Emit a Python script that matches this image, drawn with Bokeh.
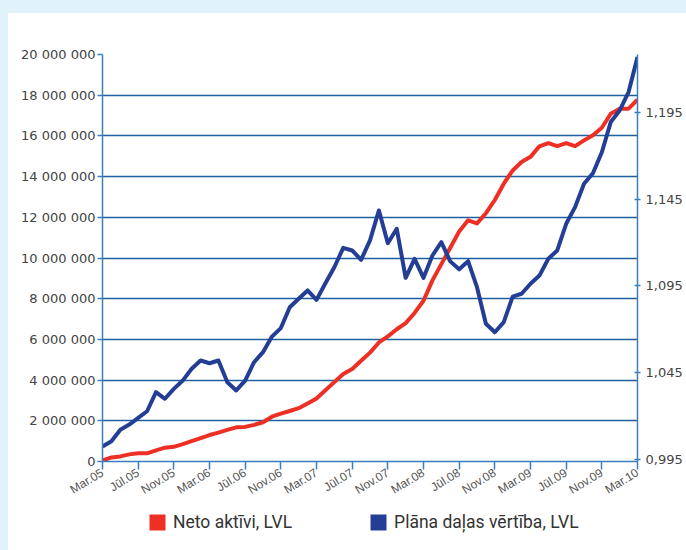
from bokeh.plotting import figure
from bokeh.models import (Range1d, LinearAxis, FixedTicker, CustomJSTickFormatter,
                          Legend, LegendItem, Spacer)
from bokeh.layouts import column, row
from bokeh.embed import file_html
from bokeh.resources import INLINE

# ---------------- data ----------------
months = list(range(61))  # Mar.05 .. Mar.10, monthly
tick_months = list(range(0, 61, 4))
tick_labels = ["Mar.05", "Jūl.05", "Nov.05", "Mar.06", "Jūl.06", "Nov.06",
               "Mar.07", "Jūl.07", "Nov.07", "Mar.08", "Jūl.08", "Nov.08",
               "Mar.09", "Jūl.09", "Nov.09", "Mar.10"]

# Neto aktīvi, LVL (millions)
neto_aktivi_mln = [
    0.05, 0.2, 0.25, 0.35, 0.4, 0.4, 0.55, 0.68, 0.72, 0.85,
    1.0, 1.15, 1.3, 1.42, 1.55, 1.68, 1.7, 1.8, 1.93, 2.2,
    2.35, 2.48, 2.62, 2.85, 3.1, 3.5, 3.9, 4.3, 4.55, 4.95,
    5.35, 5.85, 6.15, 6.5, 6.8, 7.3, 7.9, 8.9, 9.7, 10.5,
    11.3, 11.85, 11.7, 12.2, 12.85, 13.65, 14.3, 14.72, 14.97, 15.49,
    15.65, 15.5, 15.65, 15.5, 15.78, 16.03, 16.4, 17.09, 17.34, 17.34,
    17.78]
neto_aktivi = [v * 1e6 for v in neto_aktivi_mln]

# Plāna daļas vērtība, LVL
plana_dalas_vertiba = [
    1.0022, 1.0053, 1.0119, 1.0149, 1.0188, 1.0226, 1.0336, 1.0298, 1.0355, 1.0403,
    1.0471, 1.0519, 1.0503, 1.0519, 1.0393, 1.0346, 1.0403, 1.0509, 1.0567, 1.0657,
    1.0706, 1.0826, 1.0875, 1.0923, 1.0869, 1.0965, 1.1057, 1.1169, 1.1154, 1.1100,
    1.1212, 1.1385, 1.1196, 1.1279, 1.0996, 1.1106, 1.0996, 1.1125, 1.1202, 1.1091,
    1.1045, 1.1092, 1.0942, 1.0731, 1.0682, 1.0740, 1.0888, 1.0904, 1.0962, 1.1009,
    1.1106, 1.1154, 1.1308, 1.1404, 1.1539, 1.1600, 1.1721, 1.1895, 1.1962, 1.2068,
    1.2270]

left_ticks = list(range(0, 20_000_001, 2_000_000))
right_ticks = [0.995, 1.045, 1.095, 1.145, 1.195]

series_names = ["Neto aktīvi, LVL", "Plāna daļas vērtība, LVL"]

# ---------------- styles ----------------
RED = "#ee2f24"
BLUE = "#243e96"
GRID = "#1f5f9f"
AXIS = "#3b7fbf"
LABEL = "#444444"
BG = "#e1f3fa"

p = figure(width=678, height=497, output_backend="svg", toolbar_location=None,
           x_range=Range1d(0, 60), y_range=Range1d(0, 20_000_000),
           min_border_left=94, min_border_right=49, min_border_top=41,
           min_border_bottom=49)
p.extra_y_ranges = {"right": Range1d(0.9936, 1.2285)}
p.outline_line_color = None
p.background_fill_color = "white"
p.border_fill_color = "white"

# grid
p.xgrid.visible = False
p.ygrid.ticker = FixedTicker(ticks=left_ticks)
p.ygrid.grid_line_color = GRID
p.ygrid.grid_line_width = 1.3

# x axis
xa = p.xaxis[0]
xa.ticker = FixedTicker(ticks=tick_months)
xa.major_label_overrides = {m: lab for m, lab in zip(tick_months, tick_labels)}
xa.major_label_orientation = 0.55
xa.major_label_text_font = "Liberation Sans"
xa.major_label_text_font_size = "12px"
xa.major_label_text_color = "#555555"
xa.axis_line_color = AXIS
xa.axis_line_width = 1.5
xa.major_tick_line_color = AXIS
xa.major_tick_line_width = 1.5
xa.major_tick_out = 8
xa.major_tick_in = 0
xa.minor_tick_line_color = None
xa.major_label_standoff = 2

# left axis
ya = p.yaxis[0]
ya.ticker = FixedTicker(ticks=left_ticks)
ya.formatter = CustomJSTickFormatter(code="""
    return Math.round(tick).toString().replace(/\\B(?=(\\d{3})+(?!\\d))/g, ' ');
""")
ya.major_label_text_font = "DejaVu Sans"
ya.major_label_text_font_size = "13px"
ya.major_label_text_color = LABEL
ya.axis_line_color = AXIS
ya.axis_line_width = 1.5
ya.major_tick_line_color = AXIS
ya.major_tick_line_width = 1.5
ya.major_tick_out = 5
ya.major_tick_in = 0
ya.minor_tick_line_color = None
ya.major_label_standoff = 2

# right axis
ra = LinearAxis(y_range_name="right", ticker=FixedTicker(ticks=right_ticks))
ra.formatter = CustomJSTickFormatter(code="return tick.toFixed(3).replace('.', ',');")
ra.major_label_text_font = "DejaVu Sans"
ra.major_label_text_font_size = "13px"
ra.major_label_text_color = LABEL
ra.axis_line_color = AXIS
ra.axis_line_width = 1.5
ra.major_tick_line_color = AXIS
ra.major_tick_line_width = 1.5
ra.major_tick_out = 3
ra.major_tick_in = 3
ra.minor_tick_line_color = None
ra.major_label_standoff = 5
p.add_layout(ra, "right")

# lines
p.line(months, neto_aktivi, line_color=RED, line_width=4, line_join="round")
p.line(months, plana_dalas_vertiba, y_range_name="right", line_color=BLUE,
       line_width=4, line_join="round")

# ---------------- legend strip (separate small figure) ----------------
# (its frame is aligned with the main chart's frame by the column layout)
pl = figure(width=678, height=40, output_backend="svg", toolbar_location=None,
            x_axis_type=None, y_axis_type=None,
            x_range=Range1d(0, 1), y_range=Range1d(0, 1),
            min_border=0, min_border_left=0, min_border_right=0,
            min_border_top=0, min_border_bottom=0)
pl.outline_line_color = None
pl.grid.visible = False
pl.background_fill_color = "white"
pl.border_fill_color = "white"
nan = float("nan")
sw_red = pl.quad(left=[nan], right=[nan], top=[nan], bottom=[nan],
                 fill_color=RED, line_color=None)
sw_blue = pl.quad(left=[nan], right=[nan], top=[nan], bottom=[nan],
                  fill_color=BLUE, line_color=None)
legend = Legend(items=[LegendItem(label=series_names[0], renderers=[sw_red]),
                       LegendItem(label=series_names[1], renderers=[sw_blue])],
                orientation="horizontal", location=(45, 18),
                glyph_width=20, glyph_height=20, label_height=20,
                label_standoff=6, spacing=76, padding=0, margin=0,
                border_line_color=None, background_fill_alpha=0,
                label_text_font="Roboto", label_text_font_size="17.5px",
                label_text_color="#333333")
pl.add_layout(legend, "center")

layout = row(Spacer(width=8, height=550, styles={"background-color": BG}),
             column(Spacer(width=678, height=13, styles={"background-color": BG}),
                    p, pl, spacing=0),
             spacing=0)
open("out.html", "w").write(file_html(layout, INLINE))
